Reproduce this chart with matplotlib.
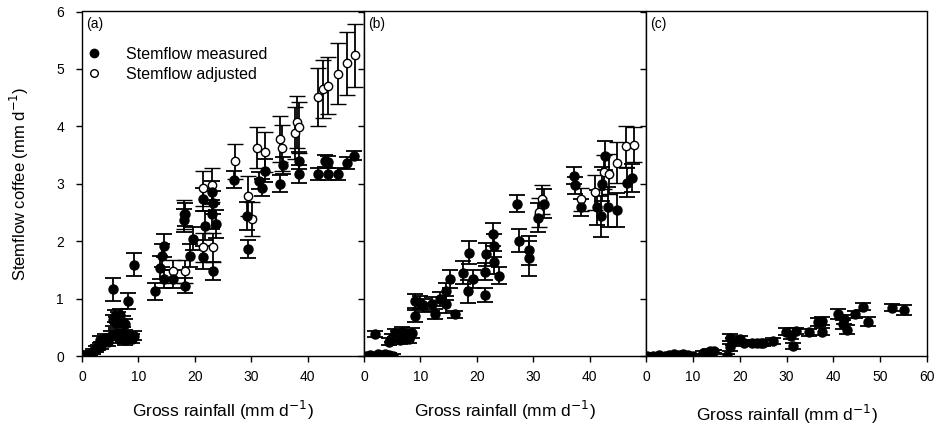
import matplotlib
matplotlib.use("Agg")
import matplotlib.pyplot as plt
from matplotlib.lines import Line2D

plt.rcParams['font.family'] = ['Liberation Sans', 'DejaVu Sans']

# panel (a) - measured stemflow
a_meas_x = [0.3, 0.9, 1.4, 1.9, 2.4, 2.9, 3.4, 3.2, 4.0, 4.6, 5.2, 5.5, 5.8, 6.1, 6.4, 6.8,
            7.2, 7.6, 6.0, 6.6, 7.1, 7.6, 8.2, 8.8, 9.2, 5.5, 8.1, 9.3, 12.9, 13.8, 14.1,
            14.6, 14.6, 16.1, 18.2, 19.1, 19.7, 18.1, 18.3, 21.5, 21.8, 21.5, 23.0, 23.2,
            23.0, 23.8, 23.3, 27.0, 29.2, 29.5, 31.3, 32.0, 32.4, 35.1, 35.7, 38.4, 38.4,
            41.9, 43.1, 43.7, 43.7, 45.4, 47.0, 48.3]
a_meas_y = [0.0, 0.02, 0.04, 0.08, 0.12, 0.15, 0.18, 0.28, 0.32, 0.25, 0.35, 0.62, 0.70,
            0.58, 0.66, 0.72, 0.60, 0.55, 0.38, 0.30, 0.36, 0.28, 0.34, 0.30, 0.35, 1.16,
            0.96, 1.59, 1.13, 1.54, 1.75, 1.92, 1.34, 1.34, 1.22, 1.75, 2.04, 2.36, 2.47,
            1.72, 2.27, 2.73, 2.85, 2.67, 2.47, 2.30, 1.48, 3.07, 2.44, 1.86, 3.05, 2.93,
            3.23, 3.00, 3.32, 3.17, 3.40, 3.17, 3.40, 3.17, 3.38, 3.17, 3.36, 3.49]
a_meas_err = [0.03, 0.03, 0.04, 0.05, 0.05, 0.05, 0.06, 0.06, 0.07, 0.07, 0.08, 0.1, 0.1,
              0.1, 0.1, 0.1, 0.1, 0.1, 0.08, 0.08, 0.08, 0.08, 0.08, 0.08, 0.08, 0.2,
              0.14, 0.2, 0.15, 0.2, 0.2, 0.2, 0.15, 0.15, 0.13, 0.2, 0.2, 0.2, 0.2, 0.2,
              0.25, 0.2, 0.2, 0.2, 0.25, 0.25, 0.15, 0.15, 0.25, 0.16, 0.15, 0.15, 0.2,
              0.15, 0.15, 0.15, 0.15, 0.1, 0.1, 0.1, 0.1, 0.1, 0.1, 0.08]

# panel (a) - adjusted stemflow
a_adj_x = [16.1, 18.2, 18.1, 21.5, 23.2, 21.5, 23.0, 27.1, 29.5, 30.1, 31.0, 32.4, 35.1,
           35.4, 37.8, 38.1, 38.4, 41.8, 42.8, 43.7, 45.4, 47.0, 48.4]
a_adj_y = [1.48, 1.48, 2.47, 1.89, 1.89, 2.92, 2.98, 3.39, 2.79, 2.39, 3.63, 3.55, 3.78,
           3.63, 3.88, 4.07, 3.98, 4.51, 4.65, 4.71, 4.92, 5.10, 5.24]
a_adj_err = [0.2, 0.2, 0.25, 0.25, 0.25, 0.3, 0.3, 0.3, 0.35, 0.3, 0.35, 0.35, 0.4, 0.4,
             0.45, 0.45, 0.45, 0.5, 0.5, 0.5, 0.53, 0.55, 0.55]

# panel (b) - measured stemflow
b_meas_x = [0.3, 1.0, 1.7, 2.4, 3.1, 3.8, 4.5, 5.2, 2.0, 4.4, 5.0, 5.5, 6.0, 6.4, 6.8, 7.2,
            7.6, 8.0, 8.5, 9.0, 9.0, 9.9, 10.5, 12.0, 12.6, 13.4, 14.5, 14.6, 15.2, 16.1,
            17.5, 18.4, 18.7, 19.4, 21.4, 21.4, 21.7, 22.8, 23.1, 23.1, 24.0, 27.2, 27.4,
            29.2, 29.3, 30.9, 31.9, 37.2, 37.4, 38.4, 41.3, 42.0, 42.2, 42.8, 43.2, 44.8,
            46.6, 47.5]
b_meas_y = [0.0, 0.02, 0.0, 0.03, 0.01, 0.04, 0.02, 0.0, 0.38, 0.25, 0.32, 0.40, 0.36, 0.28,
            0.42, 0.33, 0.38, 0.30, 0.40, 0.70, 0.96, 0.93, 0.88, 0.90, 0.73, 0.99, 1.13,
            0.90, 1.34, 0.73, 1.45, 1.13, 1.80, 1.34, 1.47, 1.06, 1.77, 2.12, 1.92, 1.63,
            1.40, 2.65, 2.01, 1.84, 1.70, 2.41, 2.65, 3.14, 2.97, 2.59, 2.59, 2.43, 3.00,
            3.49, 2.60, 2.54, 3.02, 3.10]
b_meas_err = [0.03, 0.03, 0.03, 0.03, 0.03, 0.03, 0.03, 0.03, 0.05, 0.06, 0.07, 0.07, 0.07,
              0.07, 0.08, 0.08, 0.08, 0.08, 0.08, 0.1, 0.12, 0.12, 0.12, 0.12, 0.08, 0.12,
              0.15, 0.15, 0.15, 0.06, 0.2, 0.2, 0.2, 0.15, 0.15, 0.12, 0.2, 0.2, 0.2, 0.2,
              0.15, 0.15, 0.2, 0.25, 0.3, 0.25, 0.25, 0.15, 0.15, 0.15, 0.3, 0.35, 0.3,
              0.25, 0.35, 0.3, 0.25, 0.25]

# panel (b) - adjusted stemflow
b_adj_x = [31.0, 31.6, 38.4, 41.0, 42.5, 43.4, 44.8, 46.5, 47.8]
b_adj_y = [2.50, 2.73, 2.73, 2.85, 3.20, 3.17, 3.37, 3.65, 3.68]
b_adj_err = [0.25, 0.25, 0.2, 0.3, 0.3, 0.35, 0.35, 0.35, 0.3]

# panel (c) - measured stemflow
c_meas_x = [0.3, 1.5, 2.7, 4.0, 5.0, 6.0, 7.0, 8.0, 9.0, 10.0, 12.2, 13.6, 14.5, 17.2, 17.9,
            17.9, 18.5, 20.0, 21.0, 22.6, 23.6, 24.6, 25.0, 27.1, 29.8, 31.0, 31.3, 32.1,
            34.9, 36.7, 37.6, 37.6, 40.9, 42.0, 42.3, 43.0, 44.7, 46.4, 47.5, 52.5, 55.1]
c_meas_y = [0.0, 0.0, 0.01, 0.0, 0.02, 0.03, 0.02, 0.03, 0.01, 0.0, 0.06, 0.09, 0.08, 0.0,
            0.15, 0.32, 0.25, 0.29, 0.22, 0.22, 0.23, 0.22, 0.23, 0.26, 0.42, 0.35, 0.17,
            0.44, 0.41, 0.60, 0.61, 0.42, 0.73, 0.55, 0.64, 0.46, 0.73, 0.86, 0.60, 0.84,
            0.80]
c_meas_err = [0.02, 0.02, 0.02, 0.02, 0.02, 0.02, 0.02, 0.02, 0.02, 0.02, 0.03, 0.03, 0.03,
              0.04, 0.06, 0.06, 0.06, 0.06, 0.05, 0.05, 0.05, 0.05, 0.05, 0.05, 0.06, 0.06,
              0.05, 0.05, 0.06, 0.07, 0.07, 0.06, 0.08, 0.08, 0.08, 0.08, 0.06, 0.06, 0.08,
              0.06, 0.08]

panel_labels = ['(a)', '(b)', '(c)']
x_limits = [(0, 50), (0, 50), (0, 60)]
x_ticks = [[0, 10, 20, 30, 40], [0, 10, 20, 30, 40], [0, 10, 20, 30, 40, 50, 60]]

W, H = 942, 433
fig = plt.figure(figsize=(W / 100, H / 100), dpi=100)

# panel edges in pixels
lefts = [82, 364, 646]
rights = [364, 646, 927]
top_px, bottom_px = 11.5, 356

err_kw = dict(ecolor='black', elinewidth=1.3, capsize=6, capthick=1.3, linestyle='none')

axes = []
for i in range(3):
    ax = fig.add_axes([lefts[i] / W, 1 - bottom_px / H,
                       (rights[i] - lefts[i]) / W, (bottom_px - top_px) / H])
    axes.append(ax)
    ax.set_xlim(*x_limits[i])
    ax.set_ylim(0, 6)
    ax.set_xticks(x_ticks[i])
    ax.set_yticks(range(7))
    ax.tick_params(direction='out', length=4, width=1, labelsize=10, pad=6)
    ax.tick_params(axis='y', pad=9)
    if i > 0:
        ax.set_yticklabels([])
    for s in ax.spines.values():
        s.set_linewidth(1.0)
    ax.text(0.015, 0.985, panel_labels[i], transform=ax.transAxes, ha='left', va='top',
            fontsize=10)
    ax.set_xlabel('Gross rainfall (mm d$^{-1}$)', fontsize=12.5,
                  labelpad=11 if i < 2 else 14)

# adjusted first so the measured points sit on top
axes[0].errorbar(a_adj_x, a_adj_y, yerr=a_adj_err, marker='o', markersize=6,
                 markerfacecolor='white', markeredgecolor='black', markeredgewidth=1.0,
                 **err_kw)
axes[0].errorbar(a_meas_x, a_meas_y, yerr=a_meas_err, marker='o', markersize=6.5,
                 color='black', **err_kw)

axes[1].errorbar(b_adj_x, b_adj_y, yerr=b_adj_err, marker='o', markersize=6,
                 markerfacecolor='white', markeredgecolor='black', markeredgewidth=1.0,
                 **err_kw)
axes[1].errorbar(b_meas_x, b_meas_y, yerr=b_meas_err, marker='o', markersize=6.5,
                 color='black', **err_kw)

axes[2].errorbar(c_meas_x, c_meas_y, yerr=c_meas_err, marker='o', markersize=6.5,
                 color='black', **err_kw)

axes[0].set_ylabel('Stemflow coffee (mm d$^{-1}$)', fontsize=12, labelpad=18)

handles = [Line2D([], [], linestyle='none', marker='o', markersize=6, color='black'),
           Line2D([], [], linestyle='none', marker='o', markersize=5.5,
                  markerfacecolor='white', markeredgecolor='black')]
axes[0].legend(handles, ['Stemflow measured', 'Stemflow adjusted'], loc='upper left',
               bbox_to_anchor=(-0.025, 0.93), frameon=False, fontsize=11.5,
               handlelength=1.0, handletextpad=1.5, labelspacing=0.3, borderaxespad=0.3)

fig.savefig('out.png', dpi=100)
